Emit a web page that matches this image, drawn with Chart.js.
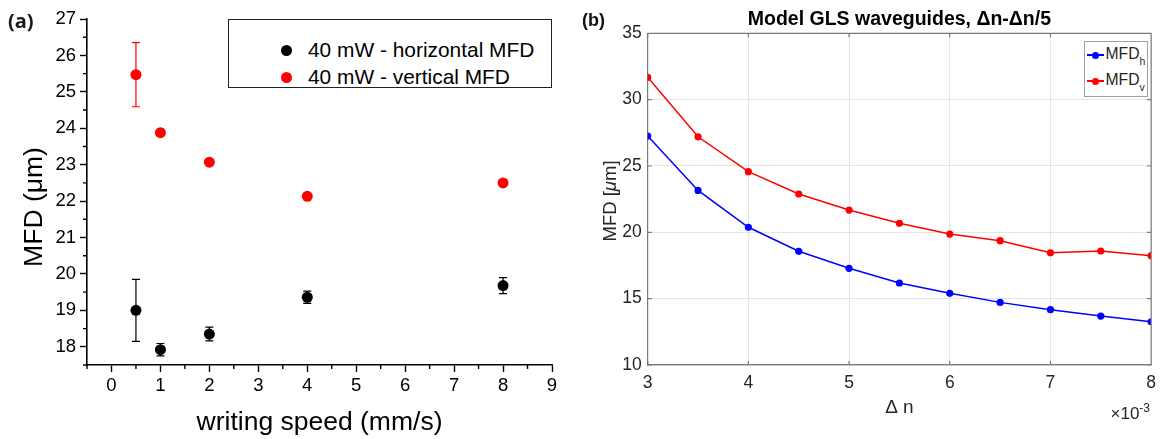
<!DOCTYPE html>
<html><head><meta charset="utf-8">
<script src="https://cdn.jsdelivr.net/npm/chart.js@4.4.1/dist/chart.umd.min.js"></script>
<style>
html,body{margin:0;padding:0;background:#fff;}
body{width:1164px;height:439px;overflow:hidden;position:relative;font-family:"Liberation Sans",Arial,sans-serif;}
#wa{position:absolute;left:0;top:0;width:580px;height:439px;}
#wb{position:absolute;left:580px;top:0;width:584px;height:439px;}
.t{position:absolute;white-space:nowrap;line-height:1;}
.dot{position:absolute;border-radius:50%;}
</style></head><body>
<div id="wa"><canvas id="ca" width="580" height="439"></canvas></div>
<div id="wb"><canvas id="cb" width="584" height="439"></canvas></div>

<div class="t" style="left:8px;top:11px;font-family:'Open Sans',sans-serif;font-weight:700;font-size:20px;color:#1a1a1a;">(a)</div>
<div class="t" style="left:33px;top:207px;font-size:26.5px;color:#000;transform:translate(-50%,-50%) rotate(-90deg);">MFD (μm)</div>

<div style="position:absolute;left:228px;top:19px;width:324px;height:69px;border:1px solid #222;box-sizing:border-box;background:#fff;"></div>
<div class="dot" style="left:280.5px;top:45px;width:11px;height:11px;background:#000;"></div>
<div class="t" style="left:308px;top:39.7px;font-size:20.9px;color:#000;">40 mW - horizontal MFD</div>
<div class="dot" style="left:280.5px;top:72px;width:11px;height:11px;background:#ff0000;"></div>
<div class="t" style="left:308px;top:66.5px;font-size:20.9px;color:#000;">40 mW - vertical MFD</div>

<div class="t" style="left:582px;top:11px;font-weight:700;font-size:18px;color:#111;">(b)</div>
<div class="t" style="left:610px;top:201px;font-size:18.5px;color:#262626;transform:translate(-50%,-50%) rotate(-90deg);">MFD [<i>μ</i>m]</div>

<div style="position:absolute;left:1084px;top:41px;width:64px;height:56px;border:1px solid #a0a0a0;box-sizing:border-box;background:#fff;"></div>
<div style="position:absolute;left:1087px;top:54.2px;width:16.5px;height:1.6px;background:#0000ff;"></div>
<div class="dot" style="left:1091.5px;top:51.5px;width:7px;height:7px;background:#0000ff;"></div>
<div class="t" style="left:1105.5px;top:45.5px;font-size:15.7px;color:#262626;">MFD<span style="font-size:10.5px;position:relative;top:6px;">h</span></div>
<div style="position:absolute;left:1087px;top:80.2px;width:16.5px;height:1.6px;background:#ff0000;"></div>
<div class="dot" style="left:1091.5px;top:77.5px;width:7px;height:7px;background:#ff0000;"></div>
<div class="t" style="left:1105.5px;top:71.5px;font-size:15.7px;color:#262626;">MFD<span style="font-size:10.5px;position:relative;top:6px;">v</span></div>

<div class="t" style="left:1110.5px;top:405px;font-size:17px;color:#262626;">×10<span style="font-size:12px;position:relative;top:-7px;">-3</span></div>

<script>
// ---------- (a) measured MFD vs writing speed ----------
const speed = [0.5, 1, 2, 4, 8];
const mfdHorizontal = [19.00, 17.92, 18.35, 19.36, 19.68];
const mfdHorizontalErr = [0.85, 0.17, 0.19, 0.17, 0.22];
const mfdVertical = [25.47, 23.88, 23.07, 22.13, 22.50];
const mfdVerticalErr = [0.88, 0, 0, 0, 0];
const speedTicks = [0, 1, 2, 3, 4, 5, 6, 7, 8, 9];
const speedMinorTicks = [-0.5, 0.5, 1.5, 2.5, 3.5, 4.5, 5.5, 6.5, 7.5, 8.5];
const mfdTicks = [18, 19, 20, 21, 22, 23, 24, 25, 26, 27];
const mfdMinorTicks = [17.5, 18.5, 19.5, 20.5, 21.5, 22.5, 23.5, 24.5, 25.5, 26.5];

// ---------- (b) model GLS waveguides ----------
const deltaN = [3, 3.5, 4, 4.5, 5, 5.5, 6, 6.5, 7, 7.5, 8]; // x 10^-3
const mfdModelH = [27.26, 23.16, 20.38, 18.57, 17.29, 16.18, 15.40, 14.72, 14.17, 13.69, 13.26];
const mfdModelV = [31.68, 27.20, 24.57, 22.89, 21.68, 20.68, 19.87, 19.37, 18.46, 18.59, 18.24];
const deltaNTicks = [3, 4, 5, 6, 7, 8];
const mfdModelTicks = [10, 15, 20, 25, 30, 35];

Chart.defaults.font.family = '"Liberation Sans", Arial, sans-serif';

const errorBars = {
  id: 'errorBars',
  beforeDatasetsDraw(chart) {
    const ctx = chart.ctx, xs = chart.scales.x, ys = chart.scales.y;
    chart.data.datasets.forEach(ds => {
      if (!ds.errors) return;
      ctx.save();
      ctx.strokeStyle = ds.borderColor; ctx.lineWidth = 1.2;
      ds.data.forEach((p, i) => {
        const e = ds.errors[i];
        if (!e) return;
        const x = xs.getPixelForValue(p.x);
        const y1 = ys.getPixelForValue(p.y + e), y2 = ys.getPixelForValue(p.y - e);
        ctx.beginPath();
        ctx.moveTo(x, y1); ctx.lineTo(x, y2);
        ctx.moveTo(x - 4, y1); ctx.lineTo(x + 4, y1);
        ctx.moveTo(x - 4, y2); ctx.lineTo(x + 4, y2);
        ctx.stroke();
      });
      ctx.restore();
    });
  }
};

const minorTicksA = {
  id: 'minorTicksA',
  afterDraw(chart) {
    const ctx = chart.ctx, xs = chart.scales.x, ys = chart.scales.y, a = chart.chartArea;
    ctx.save();
    ctx.strokeStyle = '#000'; ctx.lineWidth = 1.4;
    ctx.beginPath();
    speedMinorTicks.forEach(v => { const x = xs.getPixelForValue(v); ctx.moveTo(x, a.bottom); ctx.lineTo(x, a.bottom + 4); });
    mfdMinorTicks.forEach(v => { const y = ys.getPixelForValue(v); ctx.moveTo(a.left, y); ctx.lineTo(a.left - 4, y); });
    ctx.stroke();
    ctx.restore();
  }
};

new Chart(document.getElementById('ca'), {
  type: 'scatter',
  data: { datasets: [
    { label: '40 mW - horizontal MFD', data: speed.map((x, i) => ({ x, y: mfdHorizontal[i] })), errors: mfdHorizontalErr,
      backgroundColor: '#000', borderColor: '#000', pointRadius: 5.5, pointHoverRadius: 5.5, pointBorderWidth: 0 },
    { label: '40 mW - vertical MFD', data: speed.map((x, i) => ({ x, y: mfdVertical[i] })), errors: mfdVerticalErr,
      backgroundColor: '#ff0000', borderColor: '#ff0000', pointRadius: 5.5, pointHoverRadius: 5.5, pointBorderWidth: 0 }
  ]},
  options: {
    responsive: false, animation: false, events: [],
    layout: { padding: { left: 0, top: 19, right: 28, bottom: 0 } },
    plugins: { legend: { display: false }, tooltip: { enabled: false } },
    scales: {
      x: { type: 'linear', min: -0.5, max: 9,
        afterBuildTicks: s => { s.ticks = speedTicks.map(v => ({ value: v })); },
        afterFit: s => { s.height = 74; },
        grid: { drawOnChartArea: false, drawTicks: true, tickLength: 7, tickColor: '#000', tickWidth: 1.4 },
        border: { display: true, color: '#000', width: 1.6 },
        ticks: { color: '#000', font: { size: 18.5 }, padding: 3, maxRotation: 0, autoSkip: false },
        title: { display: true, text: 'writing speed (mm/s)', color: '#000', font: { size: 26.5 }, padding: { top: 0, bottom: 0 } }
      },
      y: { type: 'linear', min: 17.5, max: 27,
        afterBuildTicks: s => { s.ticks = mfdTicks.map(v => ({ value: v })); },
        afterFit: s => { s.width = 87; },
        grid: { drawOnChartArea: false, drawTicks: true, tickLength: 7, tickColor: '#000', tickWidth: 1.4 },
        border: { display: true, color: '#000', width: 1.6 },
        ticks: { color: '#000', font: { size: 18.5 }, padding: 4, autoSkip: false }
      }
    }
  },
  plugins: [errorBars, minorTicksA]
});

const boxB = {
  id: 'boxB',
  afterDraw(chart) {
    const ctx = chart.ctx, xs = chart.scales.x, ys = chart.scales.y, a = chart.chartArea;
    ctx.save();
    ctx.strokeStyle = '#7a7a7a'; ctx.lineWidth = 1.2;
    ctx.beginPath();
    deltaNTicks.forEach(v => { const x = xs.getPixelForValue(v);
      ctx.moveTo(x, a.bottom); ctx.lineTo(x, a.bottom - 4);
      ctx.moveTo(x, a.top); ctx.lineTo(x, a.top + 4); });
    mfdModelTicks.forEach(v => { const y = ys.getPixelForValue(v);
      ctx.moveTo(a.left, y); ctx.lineTo(a.left + 4, y);
      ctx.moveTo(a.right, y); ctx.lineTo(a.right - 4, y); });
    ctx.moveTo(a.left, a.top); ctx.lineTo(a.right, a.top); ctx.lineTo(a.right, a.bottom);
    ctx.stroke();
    ctx.restore();
  }
};

new Chart(document.getElementById('cb'), {
  type: 'line',
  data: { datasets: [
    { label: 'MFD_h', data: deltaN.map((x, i) => ({ x, y: mfdModelH[i] })),
      borderColor: '#0000ff', backgroundColor: '#0000ff', borderWidth: 1.5, pointRadius: 3.6, pointHoverRadius: 3.6, pointBorderWidth: 0, tension: 0 },
    { label: 'MFD_v', data: deltaN.map((x, i) => ({ x, y: mfdModelV[i] })),
      borderColor: '#ff0000', backgroundColor: '#ff0000', borderWidth: 1.5, pointRadius: 3.6, pointHoverRadius: 3.6, pointBorderWidth: 0, tension: 0 }
  ]},
  options: {
    responsive: false, animation: false, events: [],
    layout: { padding: { left: 0, top: 0, right: 9.3, bottom: 0 } },
    plugins: {
      legend: { display: false }, tooltip: { enabled: false },
      title: { display: true, fullSize: false, text: 'Model GLS waveguides, \u0394n-\u0394n/5', color: '#000',
        font: { size: 19.5, weight: 'bold' }, padding: { top: 7.6, bottom: 2.3 } }
    },
    scales: {
      x: { type: 'linear', min: 3, max: 8,
        afterBuildTicks: s => { s.ticks = deltaNTicks.map(v => ({ value: v })); },
        afterFit: s => { s.height = 74; },
        grid: { color: '#e4e4e4', lineWidth: 1, drawTicks: false },
        border: { display: true, color: '#7a7a7a', width: 1.2 },
        ticks: { color: '#262626', font: { size: 17.5 }, padding: 8, maxRotation: 0, autoSkip: false },
        title: { display: true, text: '\u0394 n', color: '#262626', font: { size: 19 }, padding: { top: 0, bottom: 19.6 } }
      },
      y: { type: 'linear', min: 10, max: 35,
        afterBuildTicks: s => { s.ticks = mfdModelTicks.map(v => ({ value: v })); },
        afterFit: s => { s.width = 67.7; },
        grid: { color: '#e4e4e4', lineWidth: 1, drawTicks: false },
        border: { display: true, color: '#7a7a7a', width: 1.2 },
        ticks: { color: '#262626', font: { size: 17.5 }, padding: 6, autoSkip: false }
      }
    }
  },
  plugins: [boxB]
});
</script>
</body></html>
